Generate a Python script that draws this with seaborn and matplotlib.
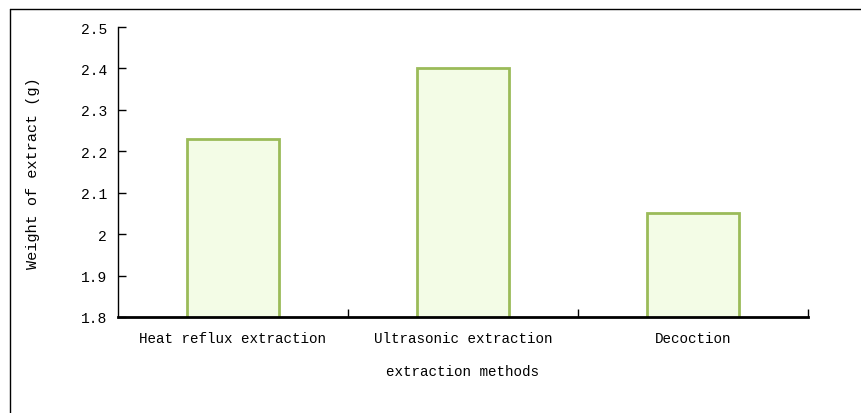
import matplotlib
matplotlib.use("Agg")
import matplotlib.pyplot as plt
from matplotlib.lines import Line2D
import seaborn as sns
import pandas as pd

categories = ["Heat reflux extraction", "Ultrasonic extraction", "Decoction"]
weights = [2.23, 2.40, 2.05]
y_ticks = [1.8, 1.9, 2.0, 2.1, 2.2, 2.3, 2.4, 2.5]
y_tick_labels = ["1.8", "1.9", "2", "2.1", "2.2", "2.3", "2.4", "2.5"]

df = pd.DataFrame({"method": categories, "weight": weights})

sns.set_style("white")
plt.rcParams["font.family"] = ["Liberation Mono", "DejaVu Sans Mono"]
plt.rcParams["text.color"] = "black"
plt.rcParams["axes.labelcolor"] = "black"
plt.rcParams["xtick.color"] = "black"
plt.rcParams["ytick.color"] = "black"

fig = plt.figure(figsize=(8.62, 4.14), dpi=100)
ax = fig.add_axes([118/862, 1-318/414, (808-118)/862, (318-28)/414])

sns.barplot(data=df, x="method", y="weight", ax=ax, width=0.4,
            color="#F3FCE6", edgecolor="#9BBB59", linewidth=2.0, saturation=1)

ax.set_ylim(1.8, 2.5)
ax.set_xlim(-0.5, 2.5)
ax.set_yticks(y_ticks)
ax.set_yticklabels(y_tick_labels, fontsize=10.5)
ax.tick_params(axis="y", left=True, direction="in", length=6, width=1, color="black", pad=8,
               labelcolor="black")
ax.tick_params(axis="x", which="major", bottom=True, length=0, pad=10, labelsize=10.3,
               labelcolor="black")
ax.set_xticks([0.5, 1.5, 2.5], minor=True)
ax.tick_params(axis="x", which="minor", bottom=True, direction="in", length=6, width=1, color="black")

for s in ["top", "right"]:
    ax.spines[s].set_visible(False)
ax.spines["left"].set_linewidth(1.0)
ax.spines["left"].set_color("black")
ax.spines["bottom"].set_linewidth(2.0)
ax.spines["bottom"].set_color("black")

ax.set_xlabel("extraction methods", fontsize=10.3, labelpad=14, color="black")
ax.set_ylabel("Weight of extract (g)", fontsize=11, labelpad=29, color="black")

fig.add_artist(Line2D([10/862, 1], [1-10/414, 1-10/414], color="black", linewidth=1.0, transform=fig.transFigure))
fig.add_artist(Line2D([10/862, 10/862], [0, 1-10/414], color="black", linewidth=1.0, transform=fig.transFigure))

fig.savefig("out.png", dpi=100)
